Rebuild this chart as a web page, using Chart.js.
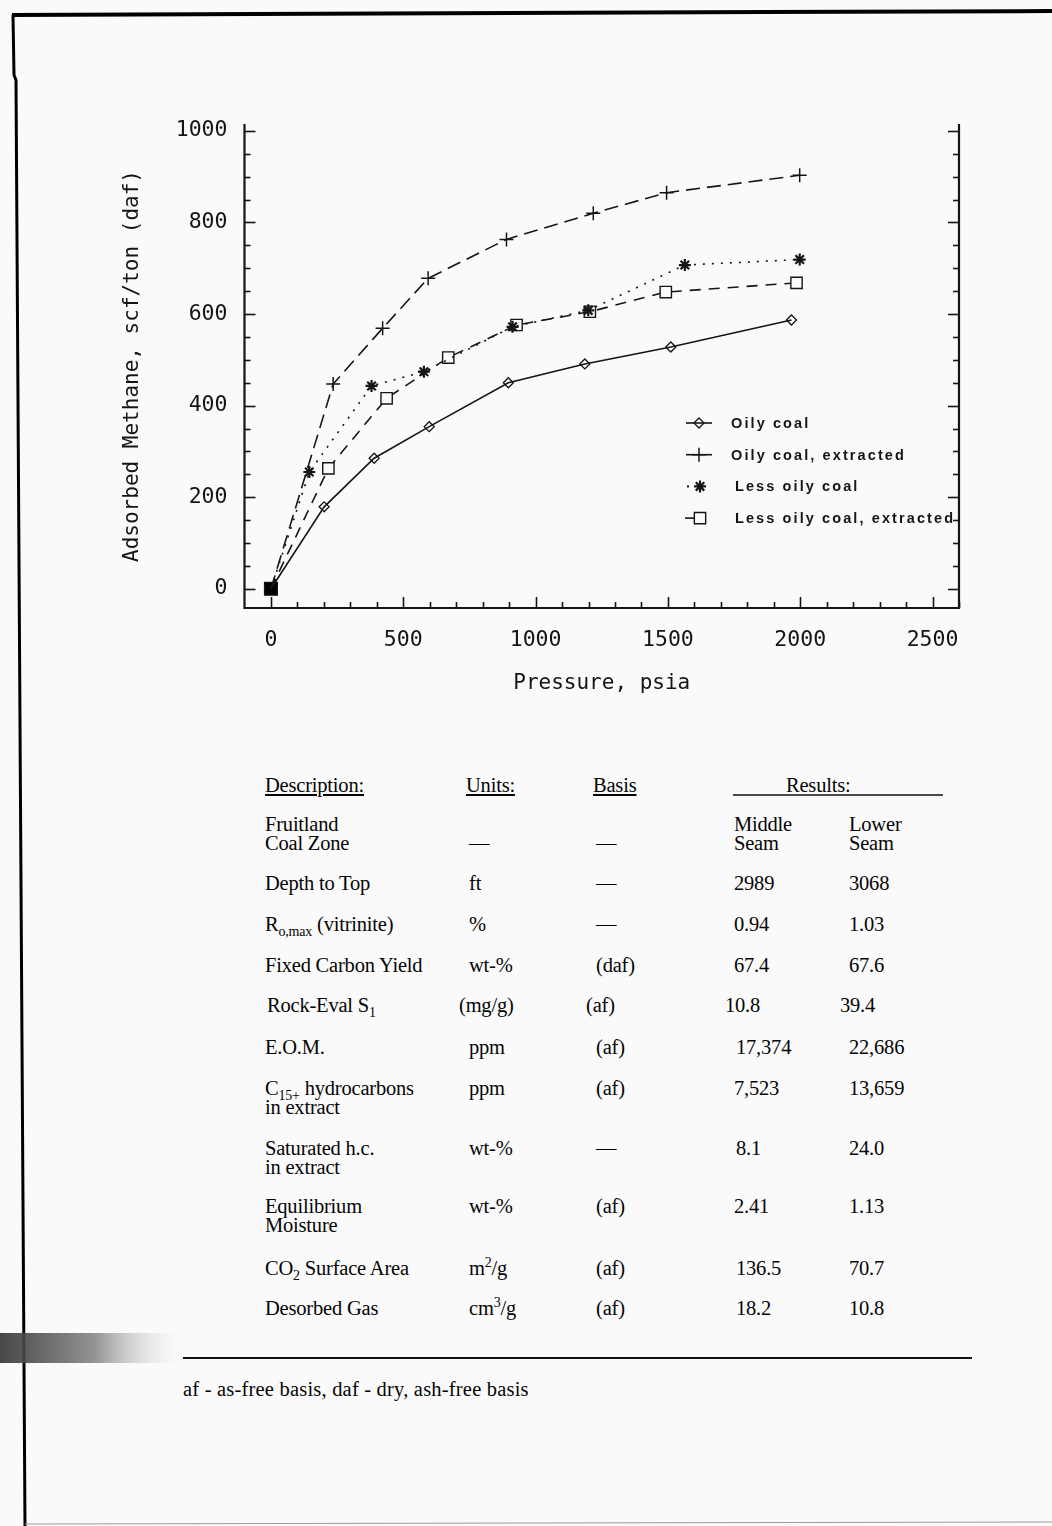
<!DOCTYPE html>
<html><head><meta charset="utf-8">
<script src="https://cdn.jsdelivr.net/npm/chart.js@4/dist/chart.umd.min.js"></script>
<style>
html,body{margin:0;padding:0;background:#fafafa;}
#page{position:relative;width:1052px;height:1526px;overflow:hidden;background:#fafafa;}
#wrap{position:absolute;left:0;top:0;width:1052px;height:720px;}
.cell{position:absolute;font-family:"Liberation Serif","DejaVu Serif",serif;font-size:20.5px;color:#050505;white-space:nowrap;line-height:19px;letter-spacing:-0.2px;}
.hd{text-decoration:underline;}
sub,sup{font-size:14px;line-height:0;}
#deco{position:absolute;left:0;top:0;width:1052px;height:1526px;pointer-events:none;}
</style></head>
<body><div id="page">
<svg id="deco" width="1052" height="1526">
  <defs><linearGradient id="sm" x1="0" x2="1"><stop offset="0" stop-color="#333"/><stop offset="0.5" stop-color="#888"/><stop offset="1" stop-color="#fafafa" stop-opacity="0"/></linearGradient></defs>
  <line x1="12" y1="15" x2="1052" y2="11" stroke="#000" stroke-width="4"/>
  <polyline points="13,15 14,75 16,80 25,1526" fill="none" stroke="#000" stroke-width="3"/>
  <line x1="25" y1="1524" x2="1052" y2="1522" stroke="#999" stroke-width="1"/>
  <rect x="0" y="1333" width="190" height="30" fill="url(#sm)" opacity="0.9"/>
  <line x1="183" y1="1358" x2="972" y2="1358" stroke="#111" stroke-width="2"/>
  <line x1="733" y1="795" x2="943" y2="795" stroke="#111" stroke-width="1.5"/>
</svg>
<div id="wrap"><canvas id="c" width="1052" height="720"></canvas></div>
<div id="table"></div>
</div>
<script>
// ---- chart data ----
const pressureOily     = [0, 201, 390, 598, 897, 1186, 1511, 1967];
const methaneOily      = [0, 179, 285, 354, 450, 491, 528, 587];
const pressureOilyExt  = [0, 235, 422, 594, 890, 1218, 1495, 1998];
const methaneOilyExt   = [0, 447, 569, 678, 763, 820, 865, 903];
const pressureLess     = [0, 145, 380, 578, 913, 1199, 1564, 1998];
const methaneLess      = [0, 255, 443, 474, 572, 608, 707, 719];
const pressureLessExt  = [0, 217, 437, 670, 928, 1205, 1492, 1986];
const methaneLessExt   = [0, 263, 416, 505, 576, 605, 648, 668];
const seriesLabels = ["Oily coal", "Oily coal, extracted", "Less oily coal", "Less oily coal, extracted"];
const xTickLabels = [0, 500, 1000, 1500, 2000, 2500];
const yTickLabels = [0, 200, 400, 600, 800, 1000];
const xMinorStep = 100, yMinorStep = 50;

// ---- table data ----
const tableHeader = ["Description:", "Units:", "Basis", "Results:"];
const tableDesc  = ["Fruitland<br>Coal Zone", "Depth to Top", "R<sub>o,max</sub> (vitrinite)", "Fixed Carbon Yield", "Rock-Eval S<sub>1</sub>", "E.O.M.", "C<sub>15+</sub> hydrocarbons<br>in extract", "Saturated h.c.<br>in extract", "Equilibrium<br>Moisture", "CO<sub>2</sub> Surface Area", "Desorbed Gas"];
const tableUnits = ["—", "ft", "%", "wt-%", "(mg/g)", "ppm", "ppm", "wt-%", "wt-%", "m<sup>2</sup>/g", "cm<sup>3</sup>/g"];
const tableBasis = ["—", "—", "—", "(daf)", "(af)", "(af)", "(af)", "—", "(af)", "(af)", "(af)"];
const tableMiddle = ["Middle<br>Seam", "2989", "0.94", "67.4", "10.8", "17,374", "7,523", "8.1", "2.41", "136.5", "18.2"];
const tableLower  = ["Lower<br>Seam", "3068", "1.03", "67.6", "39.4", "22,686", "13,659", "24.0", "1.13", "70.7", "10.8"];
const footnote = "af - as-free basis, daf - dry, ash-free basis";

// ---- table layout ----
(function(){
  const t = document.getElementById('table');
  const colX = [265, 469, 596, 734, 849];
  const rowY = [815, 874, 915, 956, 996, 1038, 1079, 1139, 1197, 1259, 1299];
  const shift = [0,0,0,0,-9,2,0,2,0,2,2];
  let h = '';
  const hx = [265, 466, 593];
  for (let i=0;i<3;i++) h += `<div class="cell hd" style="left:${hx[i]}px;top:776px">${tableHeader[i]}</div>`;
  h += `<div class="cell" style="left:786px;top:776px">${tableHeader[3]}</div>`;
  for (let r=0;r<tableDesc.length;r++){
    const y = rowY[r], s = shift[r];
    const yu = r===0 ? y+19 : y;
    h += `<div class="cell" style="left:${colX[0]+(r===4?2:0)}px;top:${y}px">${tableDesc[r]}</div>`;
    h += `<div class="cell" style="left:${colX[1]+(r===4?-10:0)}px;top:${yu}px">${tableUnits[r]}</div>`;
    h += `<div class="cell" style="left:${colX[2]+(r===4?-10:0)}px;top:${yu}px">${tableBasis[r]}</div>`;
    h += `<div class="cell" style="left:${colX[3]+s}px;top:${y}px">${tableMiddle[r]}</div>`;
    h += `<div class="cell" style="left:${colX[4]+(r===4?-9:0)}px;top:${y}px">${tableLower[r]}</div>`;
  }
  h += `<div class="cell" style="left:183px;top:1380px;font-size:20.5px;letter-spacing:0.2px">${footnote}</div>`;
  t.innerHTML = h;
})();

// ---- chart ----
const toXY = (xs, ys) => xs.map((x,i)=>({x, y: ys[i]}));
const ink = '#151515';

const datasets = [
  {label: seriesLabels[0], data: toXY(pressureOily, methaneOily), borderColor: ink, borderWidth: 1.6, borderDash: [],
   pointStyle: 'rectRot', pointRadius: c => c.dataIndex===0?0:5, pointBorderWidth: 1.3, pointBackgroundColor: 'rgba(0,0,0,0)', pointBorderColor: ink},
  {label: seriesLabels[1], data: toXY(pressureOilyExt, methaneOilyExt), borderColor: ink, borderWidth: 1.6, borderDash: [14, 7],
   pointStyle: 'cross', pointRadius: c => c.dataIndex===0?0:7, pointBorderWidth: 1.5, pointBackgroundColor: ink, pointBorderColor: ink},
  {label: seriesLabels[2], data: toXY(pressureLess, methaneLess), borderColor: ink, borderWidth: 1.6, borderDash: [2, 7],
   pointStyle: 'star', pointRadius: c => c.dataIndex===0?0:6, pointBorderWidth: 2.2, pointBackgroundColor: ink, pointBorderColor: ink},
  {label: seriesLabels[3], data: toXY(pressureLessExt, methaneLessExt), borderColor: ink, borderWidth: 1.6, borderDash: [11, 8],
   pointStyle: 'rect', pointRadius: c => c.dataIndex===0?9:8, pointBorderWidth: 1.4,
   pointBackgroundColor: c => c.dataIndex===0?'#000':'#fafafa', pointBorderColor: ink}
];

function drawMarker(ctx, style, r, x, y, fill, lw){
  ctx.save(); ctx.setLineDash([]); ctx.lineWidth = lw; ctx.strokeStyle = ink; ctx.fillStyle = fill;
  if (Chart.helpers && Chart.helpers.drawPoint) {
    Chart.helpers.drawPoint(ctx, {pointStyle: style, radius: r, rotation: 0, borderWidth: lw}, x, y);
  }
  ctx.restore();
}

const framePlugin = {
  id: 'frame',
  afterDatasetsDraw(chart){
    const {ctx, chartArea: a, scales: {x, y}} = chart;
    ctx.save();
    ctx.strokeStyle = ink; ctx.setLineDash([]);
    ctx.lineWidth = 2.2;
    ctx.beginPath();
    ctx.moveTo(a.left, a.top); ctx.lineTo(a.left, a.bottom); ctx.lineTo(a.right, a.bottom); ctx.lineTo(a.right, a.top);
    ctx.stroke();
    ctx.lineWidth = 1.6;
    for (let v = 0; v <= y.max; v += yMinorStep){
      const p = Math.round(y.getPixelForValue(v)) + 0.5;
      const len = yTickLabels.includes(v) ? 11 : 6;
      ctx.beginPath(); ctx.moveTo(a.left, p); ctx.lineTo(a.left + len, p); ctx.stroke();
      ctx.beginPath(); ctx.moveTo(a.right, p); ctx.lineTo(a.right - len, p); ctx.stroke();
    }
    for (let v = 0; v <= x.max; v += xMinorStep){
      const p = Math.round(x.getPixelForValue(v)) + 0.5;
      const len = xTickLabels.includes(v) ? 11 : 6;
      ctx.beginPath(); ctx.moveTo(p, a.bottom); ctx.lineTo(p, a.bottom - len); ctx.stroke();
    }
    // legend
    const ly0 = 423, ldy = 31.7;
    ctx.font = 'bold 14.5px "Liberation Sans", Arial, sans-serif';
    try { ctx.letterSpacing = '2.1px'; } catch(e) {}
    ctx.fillStyle = ink; ctx.textBaseline = 'middle';
    const tx = [731, 731, 735, 735];
    chart.data.datasets.forEach((ds, i) => {
      const yy = ly0 + i*ldy;
      ctx.lineWidth = 1.6; ctx.strokeStyle = ink;
      if (i === 0) { ctx.beginPath(); ctx.moveTo(686, yy); ctx.lineTo(712, yy); ctx.stroke(); drawMarker(ctx, 'rectRot', 5, 699, yy, 'rgba(0,0,0,0)', 1.3); }
      if (i === 1) { ctx.beginPath(); ctx.moveTo(686, yy); ctx.lineTo(712, yy); ctx.stroke(); drawMarker(ctx, 'cross', 7, 699, yy, ink, 1.5); }
      if (i === 2) { ctx.fillRect(687, yy-1, 2, 2); drawMarker(ctx, 'star', 6, 700, yy, ink, 2.2); }
      if (i === 3) { ctx.beginPath(); ctx.moveTo(685, yy); ctx.lineTo(694, yy); ctx.stroke(); drawMarker(ctx, 'rect', 8, 700, yy, '#fafafa', 1.4); }
      ctx.fillStyle = ink;
      ctx.fillText(ds.label, tx[i], yy + 1);
    });
    ctx.restore();
  }
};

const plain = v => String(v);

new Chart(document.getElementById('c'), {
  type: 'line',
  data: {datasets},
  options: {
    responsive: false, animation: false,
    layout: {padding: {left: 120, right: 93, top: 124, bottom: 24}},
    plugins: {legend: {display: false}, tooltip: {enabled: false}},
    scales: {
      x: {
        type: 'linear', min: -100, max: 2600,
        afterBuildTicks: s => { s.ticks = xTickLabels.map(v => ({value: v})); },
        afterFit: s => { s.height = 88; },
        grid: {display: false, drawTicks: false},
        border: {display: false},
        ticks: {padding: 20, color: ink, callback: plain, font: {family: '"DejaVu Sans Mono", monospace', size: 21.5}, maxRotation: 0},
        title: {display: true, text: 'Pressure, psia', color: ink, padding: 0, font: {family: '"DejaVu Sans Mono", monospace', size: 21}}
      },
      y: {
        type: 'linear', min: -42, max: 1015,
        afterBuildTicks: s => { s.ticks = yTickLabels.map(v => ({value: v})); },
        afterFit: s => { s.width = 124.5; },
        grid: {display: false, drawTicks: false},
        border: {display: false},
        ticks: {padding: 17, color: ink, callback: plain, font: {family: '"DejaVu Sans Mono", monospace', size: 21.5}},
        title: {display: true, text: 'Adsorbed Methane, scf/ton (daf)', color: ink, padding: 0, font: {family: '"DejaVu Sans Mono", monospace', size: 21}}
      }
    }
  },
  plugins: [framePlugin]
});
</script>
</body></html>
